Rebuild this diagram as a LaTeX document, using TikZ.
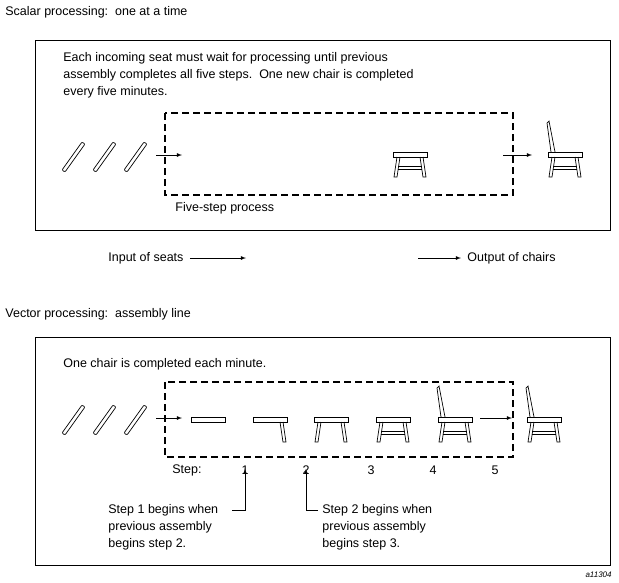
\documentclass[tikz,border=0pt]{standalone}
\usepackage{fontspec}
\setmainfont{Liberation Sans}
\usetikzlibrary{arrows}

\tikzset{
  pics/seat slat/.style={code={
    \draw[rounded corners=1pt] (0,0) -- (20,-28) -- (23,-26) -- (3,2) -- cycle;}},
  pics/chair seat/.style={code={\draw (0,0) rectangle (34,5);}},
  pics/chair front/.style={code={\draw (4,5) -- (1,25) -- (4,25) -- (7,5);}},
  pics/chair rear/.style={code={\draw (27,5) -- (30,25) -- (33,25) -- (30,5);}},
  pics/chair rail/.style={code={\draw (5,14) -- (29,14) (4.6,17) -- (29.4,17);}},
  pics/chair back/.style={code={\draw (3,0) -- (-1,-29) -- (1,-31) -- (7,0);}},
  pics/full chair/.style={code={
    \pic {chair back}; \pic {chair seat}; \pic {chair front};
    \pic {chair rear}; \pic {chair rail};}}
}

\begin{document}
\begin{tikzpicture}[x=1pt,y=-1pt,>=latex,thick,
  label text/.style={font=\fontsize{12.5}{17}\selectfont,anchor=west,inner sep=0pt,align=left},
  frame box/.style={draw,line width=0.8pt},
  process box/.style={draw,dashed,line width=1.6pt,dash pattern=on 7pt off 4pt},
  feed/.style={->,line width=0.8pt,shorten >=0pt}]
  \useasboundingbox (0,0) rectangle (619,582);

  % scalar processing
  \node[label text] (scalar) at (5,12) {Scalar processing:\ \ one at a time};
  \draw[frame box] (35,40) rectangle (610,230);
  \node[label text] (scalardesc) at (63,75) {Each incoming seat must wait for processing until previous\\
    assembly completes all five steps.\ \ One new chair is completed\\ every five minutes.};
  \draw[process box] (165,113) rectangle (513,195);
  \node[label text] (fivestep) at (175,208) {Five-step process};
  \foreach \x in {62,93,124} \pic[line width=0.7pt] at (\x,170) {seat slat};
  \coordinate (in1a) at (156,155);
  \coordinate (in1b) at (182,155);
  \draw[feed] (in1a) -- (in1b);
  \pic[line width=0.7pt] at (393,152) {chair seat};
  \pic[line width=0.7pt] at (393,152) {chair front};
  \pic[line width=0.7pt] at (393,152) {chair rear};
  \pic[line width=0.7pt] at (393,152) {chair rail};
  \coordinate (out1a) at (503,155);
  \coordinate (out1b) at (532,155);
  \draw[feed] (out1a) -- (out1b);
  \pic[line width=0.7pt] at (548,152) {full chair};

  \node[label text] (inseats) at (108,258) {Input of seats};
  \coordinate (inarr) at (246,258);
  \draw[feed] (inseats.east) ++(6,0) -- (inarr);
  \coordinate (outarr) at (418,258);
  \node[label text] (outchairs) at (467,258) {Output of chairs};
  \draw[feed] (outarr) -- ([xshift=-6pt]outchairs.west);

  % vector processing
  \node[label text] (vector) at (5,314) {Vector processing:\ \ assembly line};
  \draw[frame box] (35,337) rectangle (610,565);
  \node[label text] (vectordesc) at (63,364) {One chair is completed each minute.};
  \draw[process box] (165,382) rectangle (513,457);
  \foreach \x in {62,93,124} \pic[line width=0.7pt] at (\x,433) {seat slat};
  \coordinate (in2a) at (156,418);
  \coordinate (in2b) at (182,418);
  \draw[feed] (in2a) -- (in2b);
  \pic[line width=0.7pt] at (191,417) {chair seat};
  \pic[line width=0.7pt] at (253,417) {chair seat};
  \pic[line width=0.7pt] at (253,417) {chair rear};
  \foreach \x in {314,376} {
    \pic[line width=0.7pt] at (\x,417) {chair seat};
    \pic[line width=0.7pt] at (\x,417) {chair front};
    \pic[line width=0.7pt] at (\x,417) {chair rear};}
  \pic[line width=0.7pt] at (376,417) {chair rail};
  \pic[line width=0.7pt] at (438,417) {full chair};
  \coordinate (out2a) at (480,418);
  \coordinate (out2b) at (512,418);
  \draw[feed] (out2a) -- (out2b);
  \pic[line width=0.7pt] at (527,417) {full chair};

  \node[label text] (steplbl) at (172,470) {Step:};
  \foreach \n/\x in {1/245,2/306,3/371,4/433,5/495}
    \node[label text,anchor=center] (step\n) at (\x,470) {\n};

  \node[label text] (note1) at (108,527) {Step 1 begins when\\ previous assembly\\ begins step 2.};
  \node[label text] (note2) at (322,527) {Step 2 begins when\\ previous assembly\\ begins step 3.};
  \coordinate (bend1) at (245,510);
  \coordinate (bend2) at (306,510);
  \draw[feed] (232,510) -- (bend1) -- ([yshift=6pt]step1.south);
  \draw[feed] (318,510) -- (bend2) -- ([yshift=6pt]step2.south);

  \node[font=\fontsize{8}{9}\selectfont\itshape,anchor=east,inner sep=0pt] (figid) at (612,575) {a11304};
\end{tikzpicture}
\end{document}
